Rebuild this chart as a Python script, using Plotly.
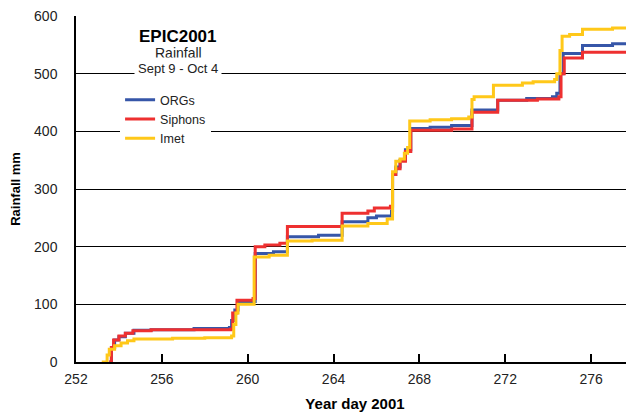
import plotly.graph_objects as go

# ---- data ----
org_day = [253.55, 253.65, 253.8, 254.0, 254.3, 254.7, 255.5, 257.5, 259.15, 259.25, 259.4, 259.55,
           260.35, 261.2, 261.85, 263.3, 264.4, 265.6, 266.0, 266.7, 266.75, 266.9, 267.1, 267.35,
           267.6, 268.5, 269.5, 270.45, 271.65, 273.0, 274.2, 274.4, 274.55, 274.7, 275.6, 277.0, 278.0]
org_mm = [0, 25, 38, 44, 50, 55, 56, 58, 60, 72, 90, 105,
          188, 191, 217, 220, 243, 250, 253, 262, 325, 338, 350, 368,
          405, 407, 410, 437, 454, 457, 460, 466, 500, 535, 549, 552, 553]

siphon_day = [253.55, 253.65, 253.75, 254.0, 254.3, 254.65, 255.5, 259.2, 259.3, 259.5, 260.25,
              260.35, 260.8, 261.5, 261.85, 264.4, 265.6, 265.9, 266.65, 266.75, 266.9, 267.1,
              267.35, 267.6, 269.5, 270.45, 271.65, 273.5, 274.5, 274.6, 274.75, 275.6, 278.0]
siphon_mm = [0, 25, 38, 45, 50, 54, 56, 57, 85, 107, 110,
             200, 203, 206, 235, 258, 262, 267, 270, 325, 335, 348,
             365, 402, 404, 433, 454, 456, 460, 500, 527, 537, 537]

imet_day = [253.2, 253.45, 253.55, 253.8, 254.1, 254.4, 254.7, 256.5, 258.0, 259.25, 259.35,
            259.45, 259.55, 260.3, 261.0, 261.85, 263.0, 264.4, 265.6, 266.5, 266.75, 266.9,
            267.1, 267.3, 267.45, 267.55, 268.5, 269.5, 270.3, 270.45, 270.55, 271.45, 272.8,
            273.3, 274.3, 274.4, 274.55, 274.65, 275.0, 275.6, 277.0, 278.0]
imet_mm = [0, 12, 22, 28, 33, 37, 40, 41, 42, 45, 65,
           85, 100, 182, 185, 210, 211, 236, 240, 248, 330, 348,
           352, 362, 372, 418, 420, 422, 425, 455, 460, 480, 484,
           486, 490, 500, 540, 565, 568, 577, 579, 579]

series_names = ["ORGs", "Siphons", "Imet"]
series_colors = ["#3656A8", "#EE3030", "#FFC819"]

x_ticks = [252, 256, 260, 264, 268, 272, 276]
y_ticks = [0, 100, 200, 300, 400, 500, 600]

FONT = "Liberation Sans, Arial, sans-serif"

fig = go.Figure()
for name, xs, ys, col in zip(series_names, [org_day, siphon_day, imet_day],
                             [org_mm, siphon_mm, imet_mm], series_colors):
    fig.add_trace(go.Scatter(x=xs, y=ys, name=name, mode="lines",
                             line=dict(color=col, width=3, shape="hv")))

fig.update_layout(
    width=626, height=406,
    margin=dict(l=68, r=0, t=8, b=52),
    paper_bgcolor="white", plot_bgcolor="white",
    font=dict(family=FONT, size=14, color="#222222"),
    showlegend=True,
    legend=dict(x=0.079, y=0.80, xanchor="left", yanchor="top",
                bgcolor="white", borderwidth=0,
                font=dict(family=FONT, size=12.5, color="#222222"),
                itemwidth=30, tracegroupgap=0),
    xaxis=dict(range=[252, 278], tickvals=x_ticks, ticktext=[str(v) for v in x_ticks],
               showgrid=False, zeroline=False,
               showline=True, linecolor="black", linewidth=1.5,
               ticks="inside", ticklen=8, tickcolor="black", tickwidth=1.5,
               ticklabelstandoff=3, ticklabeloverflow="allow",
               tickfont=dict(family=FONT, size=14, color="#222222"),
               title=dict(text="<b>Year day 2001</b>", standoff=13,
                          font=dict(family=FONT, size=15, color="black"))),
    yaxis=dict(range=[0, 600], tickvals=y_ticks, ticktext=[str(v) for v in y_ticks],
               showgrid=True, gridcolor="black", gridwidth=1,
               zeroline=False, showline=True, linecolor="black", linewidth=1.5,
               ticks="", ticklabelstandoff=14, ticklabeloverflow="allow",
               tickfont=dict(family=FONT, size=14, color="#222222"),
               title=dict(text="<b>Rainfall mm</b>", standoff=12,
                          font=dict(family=FONT, size=13, color="black"))),
)

fig.add_annotation(x=0.183, y=0.942, xref="paper", yref="paper", showarrow=False,
                   xanchor="center", yanchor="middle",
                   text="<b>EPIC2001</b>", font=dict(family=FONT, size=17, color="black"),
                   bgcolor="white")
fig.add_annotation(x=0.183, y=0.893, xref="paper", yref="paper", showarrow=False,
                   xanchor="center", yanchor="middle",
                   text="Rainfall", font=dict(family=FONT, size=14, color="#222222"),
                   bgcolor="white")
fig.add_annotation(x=0.183, y=0.847, xref="paper", yref="paper", showarrow=False,
                   xanchor="center", yanchor="middle",
                   text="Sept 9 - Oct 4", font=dict(family=FONT, size=13, color="#222222"),
                   bgcolor="white", borderpad=3)

fig.write_html("out.html")
